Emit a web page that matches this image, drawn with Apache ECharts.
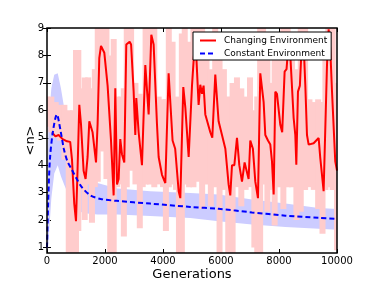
<!DOCTYPE html>
<html>
<head>
<meta charset="utf-8">
<script src="https://cdn.jsdelivr.net/npm/echarts@6/dist/echarts.min.js"></script>
<style>html,body{margin:0;padding:0;background:#fff}#c{width:374px;height:282px}</style>
</head>
<body>
<div id="c"></div>
<script>
// ---- data ----
var xTicks = [0, 2000, 4000, 6000, 8000, 10000];
var yTicks = [1, 2, 3, 4, 5, 6, 7, 8, 9];

// Changing Environment: mean
var redGen  = [172,290,400,540,690,800,862,940,1000,1055,1114,1172,1262,1330,1400,1459,1572,1690,1745,1803,1862,1976,2090,2207,2298,2355,2414,2470,2527,2585,2665,2734,2850,2900,2987,3045,3079,3160,3275,3390,3505,3597,3677,3792,3850,3965,4080,4194,4250,4330,4420,4540,4597,4700,4770,4885,5000,5114,5228,5286,5345,5400,5459,5631,5700,5803,5917,6034,6150,6262,6320,6379,6460,6551,6631,6724,6814,6880,6952,7010,7100,7183,7275,7355,7470,7528,7620,7700,7758,7816,7873,7930,8045,8110,8194,8260,8332,8400,8505,8562,8597,8654,8720,8793,8850,8907,8965,9022,9194,9367,9424,9539,9655,9712,9770,9825,9940,10000];
var redMean = [5.2,5.05,5.1,4.95,4.87,4.85,4.2,2.6,1.96,3.9,6.2,5.5,3.8,3.5,4.3,5.6,5.2,4.1,5.5,7.9,8.35,8.1,6.9,4.9,2.9,6.8,3.3,3.5,4.95,4.4,4.1,8.4,8.5,8.4,6.7,5.1,6.45,5.2,4.0,7.65,5.85,8.75,8.4,5.5,4.3,3.65,3.35,7.35,7.3,4.9,4.6,3.05,2.8,6.85,6.1,4.3,6.9,8.75,6.2,6.93,6.6,6.9,5.85,5.2,5.0,7.3,5.6,5.1,4.6,3.3,2.9,4.0,4.0,5.0,4.0,3.4,4.1,4.1,3.5,4.9,4.6,3.4,2.8,7.35,6.3,5.1,4.9,4.75,4.14,2.93,6.68,6.6,5.47,5.2,7.41,7.5,8.5,7.8,5.72,5.1,4.02,6.68,6.9,8.6,8.4,6.93,5.1,4.75,4.8,4.99,4.26,3.05,7.65,8.95,8.2,6.75,4.14,3.8];

// Changing Environment: spread (error bars)
var pinkGen   = [0,150,300,450,600,750,900,1000,1080,1180,1300,1420,1550,1650,1750,1900,2050,2180,2300,2420,2550,2650,2750,2900,3050,3200,3300,3400,3550,3700,3850,4000,4100,4200,4330,4450,4550,4650,4750,4900,5050,5200,5350,5500,5650,5800,5950,6100,6250,6400,6550,6700,6850,7000,7150,7250,7350,7450,7600,7750,7850,8000,8150,8300,8450,8600,8750,8900,9050,9200,9350,9500,9600,9700,9850,10000];
var pinkUpper = [6.5,6.5,6.3,6.2,6.2,6.0,6.0,8.2,8.2,6.8,7.2,7.2,6.8,7.5,9.5,9.5,9.5,8.0,8.6,6.5,6.5,6.8,9.5,9.5,7.0,6.6,6.5,9.0,9.5,9.5,6.5,6.4,6.4,9.0,8.5,6.5,6.3,8.8,9.5,8.5,9.5,9.5,9.3,8.0,7.5,9.2,8.5,7.5,6.5,7.0,7.2,6.8,6.5,7.2,6.0,6.5,9.5,9.2,8.0,7.0,8.5,8.8,9.3,9.5,8.8,7.5,9.5,9.3,6.4,6.3,6.4,6.3,8.8,9.5,9.5,7.0];
var pinkLower = [5.4,5.2,5.0,4.9,4.2,0.5,0.5,0.5,1.6,3.2,2.0,3.3,1.9,3.2,3.4,4.5,3.5,0.5,0.5,3.2,3.3,1.4,3.2,3.8,3.3,1.7,3.2,3.3,3.3,3.2,3.3,3.2,1.6,3.2,3.3,3.1,0.5,0.5,3.3,3.2,3.2,3.4,2.4,3.3,2.5,3.2,0.6,3.1,0.5,0.5,3.2,2.5,3.1,3.2,1.0,0.5,0.5,3.3,2.3,3.1,1.8,3.2,2.4,3.2,3.2,2.0,2.3,3.1,3.2,3.1,2.4,1.5,3.1,3.2,3.1,0.9];

// Constant Environment: mean
var blueGen  = [0,40,100,200,340,460,580,700,850,1000,1200,1500,1850,2400,3560,4940,5917,7070,8220,9370,10000];
var blueMean = [1.0,2.6,4.2,5.2,5.85,5.3,4.6,4.15,3.85,3.55,3.2,2.9,2.77,2.7,2.6,2.48,2.41,2.28,2.16,2.08,2.04];

// Constant Environment: spread band
var bandGen   = [0,50,150,250,370,480,590,710,830,1040,1290,1740,2430,3560,4940,5917,7070,8220,9370,10000];
var bandUpper = [1.5,5.5,6.8,7.3,7.35,6.8,6.1,5.3,4.8,4.3,3.7,3.35,3.15,3.05,2.99,2.93,2.75,2.6,2.44,2.4];
var bandLower = [0.85,1.2,2.8,3.7,4.0,3.6,3.3,3.0,2.7,2.35,2.25,2.2,2.2,2.15,2.08,1.96,1.84,1.75,1.68,1.65];

// ---- build ----
function zip2(a, b) { return a.map(function (v, i) { return [v, b[i]]; }); }
function zip3(a, b, c) { return a.map(function (v, i) { return [v, b[i], c[i]]; }); }

var FONT = 'DejaVu Sans';
var chart = echarts.init(document.getElementById('c'), null, { renderer: 'canvas' });

function cs(params) {
  return { x: params.coordSys.x, y: params.coordSys.y, width: params.coordSys.width, height: params.coordSys.height };
}

var option = {
  animation: false,
  backgroundColor: '#fff',
  grid: { left: 47, right: 37, top: 28, bottom: 29, outerBoundsMode: 'none', containLabel: false, show: true, borderColor: '#000', borderWidth: 1.5, backgroundColor: 'transparent', z: 10 },
  legend: {
    data: ['Changing Environment', 'Constant Environment'],
    orient: 'vertical', left: 193, top: 32,
    padding: [3, 4, 1, 6], itemGap: 2, itemWidth: 16, itemHeight: 9,
    backgroundColor: '#fff', borderColor: '#000', borderWidth: 1,
    itemStyle: { opacity: 0 },
    textStyle: { fontFamily: FONT, fontSize: 9, color: '#000', lineHeight: 11, padding: [0, 0, 0, 3] },
    z: 20
  },
  xAxis: [{
    type: 'value', min: 0, max: 10000, interval: 2000,
    name: 'Generations', nameLocation: 'middle', nameGap: 15, nameMoveOverlap: false,
    nameTextStyle: { fontFamily: FONT, fontSize: 13, color: '#000' },
    axisLine: { show: false },
    axisTick: { inside: true, length: 4, lineStyle: { color: '#000' } },
    axisLabel: { fontFamily: FONT, fontSize: 10, color: '#000', margin: 3, formatter: function (v) { return String(v); } },
    splitLine: { show: false }
  }, {
    type: 'value', min: 0, max: 10000, interval: 2000, position: 'top',
    axisLine: { show: false },
    axisTick: { inside: true, length: 4, lineStyle: { color: '#000' } },
    axisLabel: { show: false }, splitLine: { show: false }
  }],
  yAxis: [{
    type: 'value', min: 0.8, max: 9,
    name: '<n>', nameLocation: 'middle', nameGap: 10, nameRotate: 90, nameMoveOverlap: false,
    nameTextStyle: { fontFamily: FONT, fontSize: 13, color: '#000' },
    axisLine: { show: false },
    axisTick: { inside: true, length: 4, lineStyle: { color: '#000' }, customValues: yTicks },
    axisLabel: { fontFamily: FONT, fontSize: 10, color: '#000', margin: 3, customValues: yTicks },
    splitLine: { show: false }
  }, {
    type: 'value', min: 0.8, max: 9, position: 'right',
    axisLine: { show: false },
    axisTick: { inside: true, length: 4, lineStyle: { color: '#000' }, customValues: yTicks },
    axisLabel: { show: false }, splitLine: { show: false }
  }],
  series: [
    {
      name: 'blueBand', type: 'custom', z: 1, silent: true, clip: true,
      data: zip3(bandGen, bandLower, bandUpper),
      encode: { x: 0, y: [1, 2] },
      renderItem: function (params, api) {
        if (params.dataIndex !== 0) return null;
        var pts = [];
        for (var i = 0; i < bandGen.length; i++) pts.push(api.coord([bandGen[i], bandUpper[i]]));
        for (var j = bandGen.length - 1; j >= 0; j--) pts.push(api.coord([bandGen[j], bandLower[j]]));
        return { type: 'polygon', shape: { points: pts }, style: { fill: '#ccccff' } };
      }
    },
    {
      name: 'pinkBars', type: 'custom', z: 2, silent: true, clip: true,
      data: zip3(pinkGen, pinkLower, pinkUpper),
      encode: { x: 0, y: [1, 2] },
      renderItem: function (params, api) {
        var x = api.value(0);
        var p1 = api.coord([x, api.value(2)]);
        var p2 = api.coord([x, api.value(1)]);
        var w = 6;
        var r = echarts.graphic.clipRectByRect({ x: p1[0] - w / 2, y: p1[1], width: w, height: p2[1] - p1[1] }, cs(params));
        return r && { type: 'rect', shape: r, style: { fill: '#ffcccc' } };
      }
    },
    {
      name: 'Changing Environment', type: 'line', z: 3,
      data: zip2(redGen, redMean),
      symbol: 'none', showSymbol: false,
      lineStyle: { color: '#ff0000', width: 2 },
      itemStyle: { color: '#ff0000' }
    },
    {
      name: 'Constant Environment', type: 'line', z: 4,
      data: zip2(blueGen, blueMean), smooth: 0.3,
      symbol: 'none', showSymbol: false,
      lineStyle: { color: '#0000ff', width: 2, type: [5, 3] },
      itemStyle: { color: '#0000ff' }
    }
  ]
};
chart.setOption(option);
</script>
</body>
</html>
